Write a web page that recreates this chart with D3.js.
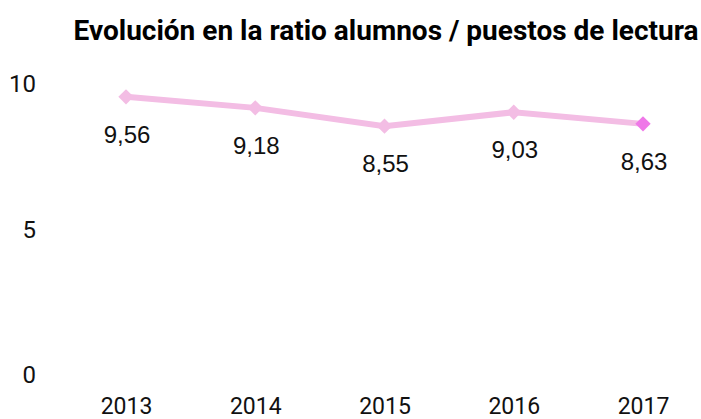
<!DOCTYPE html>
<html>
<head>
<meta charset="utf-8">
<script src="https://cdn.jsdelivr.net/npm/d3@7"></script>
<style>
  body { margin: 0; background: #fff; overflow: hidden; }
  svg { font-family: Roboto, sans-serif; }
</style>
</head>
<body>
<div id="chart"></div>
<script>
const years = ["2013", "2014", "2015", "2016", "2017"];
const ratios = [9.56, 9.18, 8.55, 9.03, 8.63];
const yTicks = [0, 5, 10];
const title = "Evolución en la ratio alumnos / puestos de lectura";

const width = 701, height = 419;

const svg = d3.select("#chart").append("svg")
    .attr("width", width)
    .attr("height", height)
    .style("display", "block");

const x = d3.scalePoint()
    .domain(years)
    .range([126, 643]);

const y = d3.scaleLinear()
    .domain([0, 10])
    .range([375, 84]);

// title
svg.append("text")
    .attr("x", 386)
    .attr("y", 40)
    .attr("text-anchor", "middle")
    .style("font-size", "28px")
    .style("font-weight", "bold")
    .style("fill", "#000")
    .text(title);

// y axis labels
const yAxis = d3.axisLeft(y).tickValues(yTicks).tickSize(0).tickPadding(0);
svg.append("g")
    .attr("transform", "translate(36,0)")
    .call(yAxis)
    .call(g => g.select(".domain").remove())
    .selectAll("text")
    .style("font-family", "Roboto, sans-serif")
    .style("font-size", "24px")
    .style("fill", "#111");

// x axis labels (baseline near the bottom edge, as in the original)
const xAxis = d3.axisBottom(x).tickSize(0).tickPadding(0);
svg.append("g")
    .attr("transform", "translate(0,414)")
    .call(xAxis)
    .call(g => g.select(".domain").remove())
    .selectAll("text")
    .attr("dy", "0")
    .style("font-family", "Roboto, sans-serif")
    .style("font-size", "23px")
    .style("fill", "#111");

// line
const line = d3.line()
    .x((d, i) => x(years[i]))
    .y(d => y(d));

svg.append("path")
    .datum(ratios)
    .attr("fill", "none")
    .attr("stroke", "#f3bde4")
    .attr("stroke-width", 6)
    .attr("d", line);

// markers
const diamond = d3.symbol().type(d3.symbolDiamond2).size(150);
svg.selectAll(".marker")
    .data(ratios)
    .enter()
    .append("path")
    .attr("class", "marker")
    .attr("transform", (d, i) => "translate(" + x(years[i]) + "," + y(d) + ")")
    .attr("d", diamond)
    .attr("fill", (d, i) => i === ratios.length - 1 ? "#ef78e8" : "#f3bde4");

// value labels
svg.selectAll(".value-label")
    .data(ratios)
    .enter()
    .append("text")
    .attr("class", "value-label")
    .attr("text-anchor", "middle")
    .attr("x", (d, i) => x(years[i]) + 1)
    .attr("y", d => y(d) + 46)
    .style("font-size", "24px")
    .style("font-family", "Arial, 'Liberation Sans', sans-serif")
    .style("fill", "#111")
    .text(d => d3.format(".2f")(d).replace(".", ","));
</script>
</body>
</html>
